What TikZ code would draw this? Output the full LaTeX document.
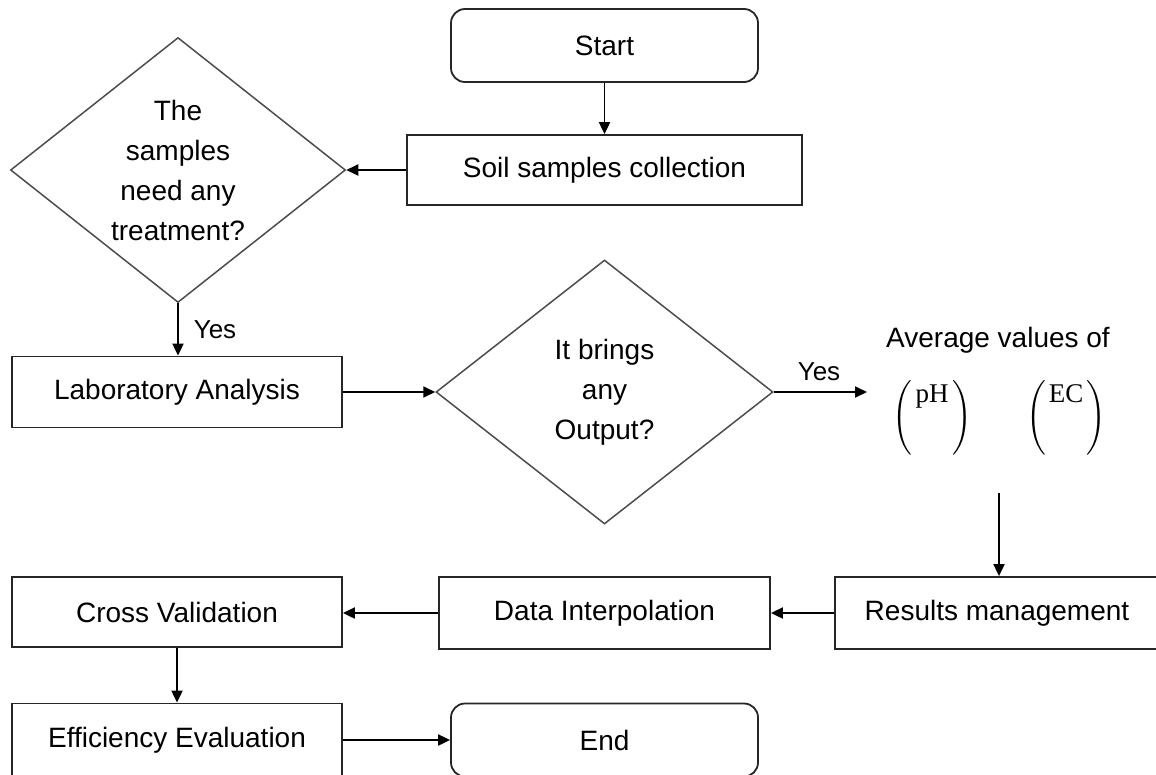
\documentclass[tikz,border=0pt]{standalone}
\usepackage{amsmath}
\usepackage{fontspec}
\setmainfont{Liberation Sans}
\newfontfamily\serifpart{Liberation Serif}
\usetikzlibrary{shapes.geometric,arrows.meta}
\tikzset{
  txt/.style={font=\fontsize{28}{40}\selectfont, text=black, align=center},
  procbox/.style={txt, draw=black!85, line width=1.8pt, rectangle, inner sep=0pt},
  termbox/.style={procbox, rounded corners=14pt},
  decbox/.style={diamond, draw=black!70, line width=1.5pt, inner sep=0pt},
  conn/.style={draw=black, line width=1.9pt, -{Triangle[length=12pt,width=11pt]}},
  lbl/.style={font=\fontsize{26}{30}\selectfont, text=black},
  paren/.style={font=\fontsize{26}{33}\selectfont, inner sep=0pt}
}
\newcommand{\parenval}[1]{$\left(\vcenter{\hbox to 40pt{\hss\rule{0pt}{74pt}\raisebox{53pt}{\fontsize{27}{33}\selectfont\serifpart #1}\hss}}\right)$}
\begin{document}
\begin{tikzpicture}[x=1pt,y=-1pt]
\useasboundingbox (0,0) rectangle (1156,774);
% nodes
\node[termbox, minimum width=307pt, minimum height=73pt] (start) at (604.5,45.5) {Start};
\node[procbox, minimum width=395pt, minimum height=70pt] (soil) at (604.5,170) {Soil samples collection};
\node[decbox, minimum width=335pt, minimum height=265pt] (d1) at (178,170) {};
\node[txt] (d1t) at (d1) {The\\samples\\need any\\treatment?};
\node[procbox, minimum width=330pt, minimum height=71pt] (lab) at (177,392) {Laboratory Analysis};
\node[decbox, minimum width=337pt, minimum height=264pt] (d2) at (604.5,392) {};
\node[txt] (d2t) at (d2) {It brings\\any\\Output?};
\node[txt] (avg) at (998,340) {Average values of};
\node[paren] (ph) at (932,418) {\parenval{pH}};
\node[paren] (ec) at (1066,418) {\parenval{EC}};
\node[procbox, minimum width=324pt, minimum height=72pt] (res) at (997,613) {Results management};
\node[procbox, minimum width=331pt, minimum height=72pt] (dat) at (604.5,613) {Data Interpolation};
\node[procbox, minimum width=330pt, minimum height=70pt] (cross) at (177,612) {Cross Validation};
\node[procbox, minimum width=330pt, minimum height=73pt] (eff) at (177,740) {Efficiency Evaluation};
\node[termbox, minimum width=307pt, minimum height=73pt] (end) at (604.5,740) {End};
\coordinate (yesend) at (867,392);
\coordinate (avgbot) at (999,493);
% connectors
\draw[conn] (start.south) -- (soil.north);
\draw[conn] (soil.west) -- (d1.east);
\draw[conn] (d1.south) -- (d1.south |- lab.north);
\node[lbl] (yes1) at (215,330) {Yes};
\draw[conn] (lab.east) -- (d2.west);
\draw[conn] (d2.east) -- (yesend);
\node[lbl] (yes2) at (819,372) {Yes};
\draw[conn] (avgbot) -- (avgbot |- res.north);
\draw[conn] (res.west) -- (dat.east);
\draw[conn] (dat.west) -- (dat.west -| cross.east);
\draw[conn] (cross.south) -- (eff.north);
\draw[conn] (eff.east) -- (end.west);
\end{tikzpicture}
\end{document}
